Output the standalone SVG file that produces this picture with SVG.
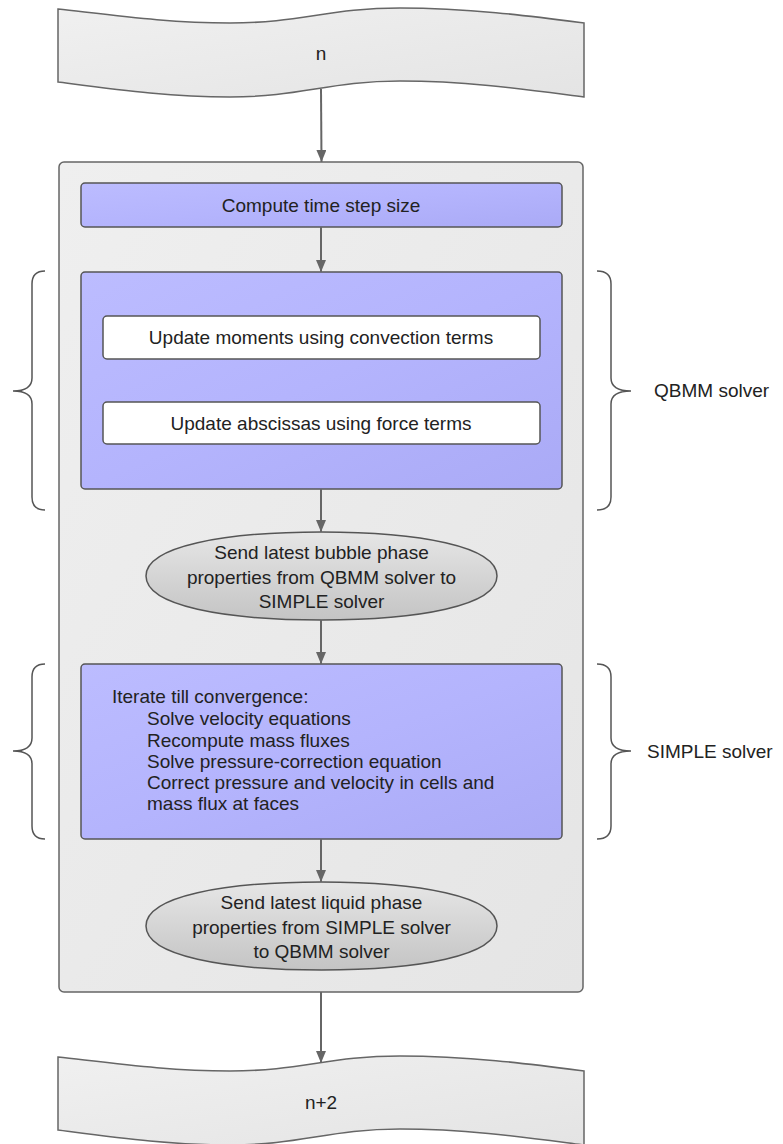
<svg xmlns="http://www.w3.org/2000/svg" width="783" height="1144" viewBox="0 0 783 1144">
<style>
text{font-family:"Liberation Sans",Arial,sans-serif;font-size:19px;fill:#222}
.c{text-anchor:middle}
.wave{fill:url(#gw);stroke:#666;stroke-width:1.5}
.cont{fill:url(#gc);stroke:#666;stroke-width:1.5}
.blue{fill:url(#gb);stroke:#555;stroke-width:1.5}
.white{fill:#fff;stroke:#555;stroke-width:1.5}
.ell{fill:url(#ge);stroke:#555;stroke-width:1.5}
.brace{fill:none;stroke:#555;stroke-width:1.5}
.conn{fill:none;stroke:#666;stroke-width:2;marker-end:url(#ah)}
</style>
<defs>
<linearGradient id="gw" x1="0" y1="0" x2="1" y2="1"><stop offset="0" stop-color="#f0f0f0"/><stop offset="1" stop-color="#e4e4e4"/></linearGradient>
<linearGradient id="gc" x1="0" y1="0" x2="1" y2="1"><stop offset="0" stop-color="#efefef"/><stop offset="1" stop-color="#e5e5e5"/></linearGradient>
<linearGradient id="gb" x1="0" y1="0" x2="1" y2="1"><stop offset="0" stop-color="#bcbcff"/><stop offset="0.5" stop-color="#b4b4fd"/><stop offset="1" stop-color="#aaaaf6"/></linearGradient>
<linearGradient id="ge" x1="0" y1="0" x2="0" y2="1"><stop offset="0" stop-color="#e6e6e6"/><stop offset="1" stop-color="#c4c4c4"/></linearGradient>
<marker id="ah" viewBox="0 0 12 10" refX="12" refY="5" markerWidth="12" markerHeight="10" markerUnits="userSpaceOnUse" orient="auto"><path d="M0,0 L12,5 L0,10 z" fill="#666"/></marker>
</defs>

<g id="n-start">
<path class="wave" d="M58,9 C120,16 170,23 230,23 C300,23 330,8 400,8 C470,8 530,16 584,23 L584,97 C530,90 470,81 400,81 C330,81 300,97 230,97 C170,97 120,90 58,82 Z"/>
<text class="c" x="321" y="60">n</text>
</g>

<g id="container">
<rect class="cont" x="59" y="162" width="524" height="830" rx="5"/>
</g>

<g id="compute">
<rect class="blue" x="81" y="183" width="481" height="44" rx="4"/>
<text class="c" x="321" y="212">Compute time step size</text>
</g>

<g id="qbmm">
<rect class="blue" x="81" y="272" width="481" height="217" rx="4"/>
</g>
<g id="update-moments">
<rect class="white" x="103" y="316" width="437" height="43" rx="4"/>
<text class="c" x="321" y="344">Update moments using convection terms</text>
</g>
<g id="update-abscissas">
<rect class="white" x="103" y="402" width="437" height="42" rx="4"/>
<text class="c" x="321" y="430">Update abscissas using force terms</text>
</g>

<g id="send-bubble">
<path class="ell" d="M146,576 C146,546 225,532 321.5,532 C418,532 497,546 497,576 C497,606 418,620 321.5,620 C225,620 146,606 146,576 Z"/>
<text class="c" x="321.5" y="559">Send latest bubble phase</text>
<text class="c" x="321.5" y="584">properties from QBMM solver to</text>
<text class="c" x="321.5" y="608">SIMPLE solver</text>
</g>

<g id="simple">
<rect class="blue" x="81" y="664" width="481" height="175" rx="4"/>
<text x="112" y="703">Iterate till convergence:</text>
<text x="147" y="725">Solve velocity equations</text>
<text x="147" y="747">Recompute mass fluxes</text>
<text x="147" y="768">Solve pressure-correction equation</text>
<text x="147" y="789">Correct pressure and velocity in cells and</text>
<text x="147" y="810">mass flux at faces</text>
</g>

<g id="send-liquid">
<path class="ell" d="M146,926 C146,896 225,882 321.5,882 C418,882 497,896 497,926 C497,956 418,970 321.5,970 C225,970 146,956 146,926 Z"/>
<text class="c" x="321.5" y="909">Send latest liquid phase</text>
<text class="c" x="321.5" y="934">properties from SIMPLE solver</text>
<text class="c" x="321.5" y="958">to QBMM solver</text>
</g>

<g id="n-end">
<path class="wave" d="M58,1057 C120,1064 170,1071 230,1071 C300,1071 330,1056 400,1056 C470,1056 530,1064 584,1071 L584,1145 C530,1138 470,1129 400,1129 C330,1129 300,1145 230,1145 C170,1145 120,1138 58,1130 Z"/>
<text class="c" x="321" y="1109">n+2</text>
</g>

<g id="qbmm-brace-left"><path class="brace" d="M45,271 C36,271 32,275 32,284 L32,378 C32,387 26,391 13,391 C26,391 32,395 32,404 L32,497 C32,506 36,510 45,510"/></g>
<g id="qbmm-brace-right"><path class="brace" d="M597,271 C606,271 611,275 611,284 L611,378 C611,387 618,391 631,391 C618,391 611,395 611,404 L611,497 C611,506 606,510 597,510"/></g>
<g id="qbmm-label"><text x="654" y="397">QBMM solver</text></g>

<g id="simple-brace-left"><path class="brace" d="M45,664 C36,664 32,668 32,677 L32,738 C32,747 26,751 13,751 C26,751 32,755 32,764 L32,826 C32,835 36,839 45,839"/></g>
<g id="simple-brace-right"><path class="brace" d="M597,664 C606,664 611,668 611,677 L611,738 C611,747 618,751 631,751 C618,751 611,755 611,764 L611,826 C611,835 606,839 597,839"/></g>
<g id="simple-label"><text x="647" y="758">SIMPLE solver</text></g>

<g id="connectors">
<path class="conn" d="M321,89 L321.5,162"/>
<path class="conn" d="M321,227 L321,272"/>
<path class="conn" d="M321,489 L321,532"/>
<path class="conn" d="M321,620 L321,664"/>
<path class="conn" d="M321,839 L321,882"/>
<path class="conn" d="M321,992 L321,1063"/>
</g>
</svg>
